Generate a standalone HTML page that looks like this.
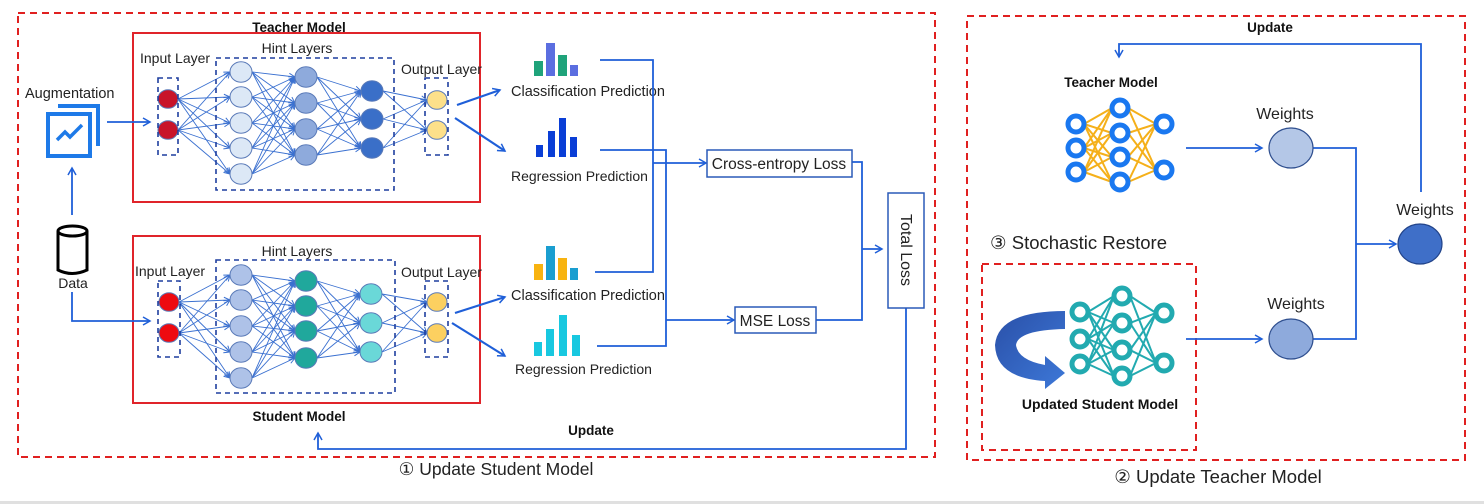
<!DOCTYPE html>
<html><head><meta charset="utf-8"><style>
html,body{margin:0;padding:0;background:#fff;}
svg{display:block;font-family:"Liberation Sans",sans-serif;}
</style></head><body>
<svg id="s" width="1484" height="504" viewBox="0 0 1484 504" xmlns="http://www.w3.org/2000/svg">
<defs>
<marker id="a" markerWidth="10" markerHeight="10" refX="8" refY="5" orient="auto" markerUnits="userSpaceOnUse"><path d="M1,1 L8,5 L1,9" fill="none" stroke="#1f5fd8" stroke-width="1.5"/></marker>
<marker id="sa" markerWidth="8" markerHeight="8" refX="7" refY="4" orient="auto" markerUnits="userSpaceOnUse"><path d="M1,1 L7,4 L1,7" fill="none" stroke="#3a70d0" stroke-width="1"/></marker>
<linearGradient id="cg" x1="0" y1="0" x2="1" y2="1"><stop offset="0" stop-color="#2a50a8"/><stop offset="1" stop-color="#3d78d8"/></linearGradient>
</defs>
<rect x="0" y="501" width="1484" height="3" fill="#e0e0e0"/>
<rect x="18" y="13" width="917" height="444" fill="none" stroke="#e02020" stroke-width="2" stroke-dasharray="7,5"/>
<rect x="967" y="16" width="498" height="444" fill="none" stroke="#e02020" stroke-width="2" stroke-dasharray="7,5"/>
<rect x="982" y="264" width="214" height="186" fill="none" stroke="#e02020" stroke-width="2" stroke-dasharray="7,5"/>
<rect x="133" y="33" width="347" height="169" fill="none" stroke="#e0242a" stroke-width="2"/>
<rect x="133" y="236" width="347" height="167" fill="none" stroke="#e0242a" stroke-width="2"/>
<g id="nets"></g>
<g fill="none" stroke="#1f3f9f" stroke-width="1.6" stroke-dasharray="5,4">
<rect x="158" y="78" width="20" height="77"/><rect x="216" y="58" width="178" height="132"/><rect x="425" y="78" width="23" height="77"/>
<rect x="158" y="281" width="22" height="76"/><rect x="216" y="260" width="179" height="133"/><rect x="425" y="281" width="23" height="76"/>
</g>
<g font-size="14" fill="#222">
<text x="140" y="63">Input Layer</text><text x="297" y="53" text-anchor="middle">Hint Layers</text><text x="401" y="74">Output Layer</text>
<text x="135" y="276">Input Layer</text><text x="297" y="256" text-anchor="middle">Hint Layers</text><text x="401" y="277">Output Layer</text>
<text x="25" y="98" font-size="14.5">Augmentation</text><text x="73" y="288" text-anchor="middle">Data</text>
<text x="511" y="96" font-size="14.5">Classification Prediction</text><text x="511" y="181">Regression Prediction</text>
<text x="511" y="300" font-size="14.5">Classification Prediction</text><text x="515" y="374">Regression Prediction</text>
</g>
<g font-size="13.5" font-weight="bold" fill="#111">
<text x="299" y="32" text-anchor="middle">Teacher Model</text>
<text x="299" y="421" text-anchor="middle">Student Model</text>
<text x="591" y="435" text-anchor="middle">Update</text>
<text x="1270" y="32" text-anchor="middle">Update</text>
<text x="1111" y="87" text-anchor="middle">Teacher Model</text>
<text x="1100" y="409" text-anchor="middle" font-size="14">Updated Student Model</text>
</g>
<path d="M58,106 H98 V146" fill="none" stroke="#1e7ae8" stroke-width="4"/>
<rect x="48" y="114" width="42" height="42" fill="none" stroke="#1e7ae8" stroke-width="4"/>
<path d="M57,140 L65,132 L70,137 L82,125" fill="none" stroke="#1e7ae8" stroke-width="3.5"/>
<path d="M58,231 V270 Q72,277 87,270 V231" fill="#fff" stroke="#000" stroke-width="3"/>
<ellipse cx="72.5" cy="231" rx="14.5" ry="5" fill="#fff" stroke="#000" stroke-width="3"/>
<g fill="none" stroke="#1f5fd8" stroke-width="1.8">
<path d="M107,122 H150" marker-end="url(#a)"/>
<path d="M72,215 V168" marker-end="url(#a)"/>
<path d="M72,292 V321 H150" marker-end="url(#a)"/>
<path d="M457,105 L500,90" marker-end="url(#a)" stroke-width="2.2"/>
<path d="M455,118 L505,151" marker-end="url(#a)" stroke-width="2.2"/>
<path d="M455,313 L505,297" marker-end="url(#a)" stroke-width="2.2"/>
<path d="M452,323 L505,356" marker-end="url(#a)" stroke-width="2.2"/>
<path d="M600,60 H653 V272 H595"/>
<path d="M600,150 H666 V346 H597"/>
<path d="M653,163 H706" marker-end="url(#a)"/>
<path d="M666,320 H734" marker-end="url(#a)"/>
<path d="M852,162 H862 V320 H816"/>
<path d="M862,249 H882" marker-end="url(#a)"/>
<path d="M906,308 V449 H318 V433" marker-end="url(#a)"/>
<path d="M1421,192 V44 H1119 V57" marker-end="url(#a)"/>
<path d="M1186,148 H1262" marker-end="url(#a)"/>
<path d="M1186,339 H1262" marker-end="url(#a)"/>
<path d="M1313,148 H1356 V339 H1313"/>
<path d="M1356,244 H1396" marker-end="url(#a)"/>
</g>
<g>
<rect x="534" y="61" width="9" height="15" fill="#1fa37a"/><rect x="546" y="43" width="9" height="33" fill="#5b6ee0"/><rect x="558" y="55" width="9" height="21" fill="#1fa37a"/><rect x="570" y="65" width="8" height="11" fill="#5b6ee0"/>
<rect x="536" y="145" width="7" height="12" fill="#0a3ed6"/><rect x="548" y="131" width="7" height="26" fill="#0a3ed6"/><rect x="559" y="118" width="7" height="39" fill="#0a3ed6"/><rect x="570" y="137" width="7" height="20" fill="#0a3ed6"/>
<rect x="534" y="264" width="9" height="16" fill="#f8b310"/><rect x="546" y="246" width="9" height="34" fill="#1a9ed0"/><rect x="558" y="258" width="9" height="22" fill="#f8b310"/><rect x="570" y="268" width="8" height="12" fill="#1a9ed0"/>
<rect x="534" y="342" width="8" height="14" fill="#18c8e0"/><rect x="546" y="329" width="8" height="27" fill="#18c8e0"/><rect x="559" y="315" width="8" height="41" fill="#18c8e0"/><rect x="572" y="335" width="8" height="21" fill="#18c8e0"/>
</g>
<rect x="707" y="150" width="145" height="27" fill="#fff" stroke="#2a5ab8" stroke-width="1.5"/>
<text x="779" y="169" font-size="15.5" text-anchor="middle" fill="#222">Cross-entropy Loss</text>
<rect x="735" y="307" width="81" height="26" fill="#fff" stroke="#2a5ab8" stroke-width="1.5"/>
<text x="775" y="326" font-size="15.5" text-anchor="middle" fill="#222">MSE Loss</text>
<rect x="888" y="193" width="36" height="115" fill="#fff" stroke="#2a5ab8" stroke-width="1.5"/>
<text transform="translate(901,250) rotate(90)" font-size="16" text-anchor="middle" fill="#222">Total Loss</text>
<ellipse cx="1291" cy="148" rx="22" ry="20" fill="#b4c7e7" stroke="#2f4f8f" stroke-width="1.2"/>
<ellipse cx="1291" cy="339" rx="22" ry="20" fill="#8eaadc" stroke="#2f4f8f" stroke-width="1.2"/>
<ellipse cx="1420" cy="244" rx="22" ry="20" fill="#3f6fc8" stroke="#22448a" stroke-width="1.2"/>
<g font-size="16" fill="#222" text-anchor="middle">
<text x="1285" y="119">Weights</text><text x="1296" y="309">Weights</text><text x="1425" y="215">Weights</text>
</g>
<text x="990" y="249" font-size="18.5" fill="#222">③ Stochastic Restore</text>
<text x="496" y="475" font-size="17.5" fill="#222" text-anchor="middle">① Update Student Model</text>
<text x="1218" y="483" font-size="18.5" fill="#222" text-anchor="middle">② Update Teacher Model</text>
<path d="M1065,311 V329 Q1018,330 1016,345 Q1018,360 1045,365 L1045,356 L1065,373 L1045,389 L1045,381 Q996,378 995,345 Q998,311 1065,311 Z" fill="url(#cg)"/>
</svg>
<script>
var g=document.getElementById('nets'),NS='http://www.w3.org/2000/svg';
function el(t,a){var e=document.createElementNS(NS,t);for(var k in a)e.setAttribute(k,a[k]);g.appendChild(e);return e;}
function net(layers,arrow){
 for(var i=0;i<layers.length-1;i++){var A=layers[i],B=layers[i+1];
  A.ys.forEach(function(ya){B.ys.forEach(function(yb){
   var a={x1:A.x+A.r,y1:ya,x2:B.x-B.r,y2:yb,stroke:arrow.c,'stroke-width':arrow.w};
   if(arrow.m)a['marker-end']='url(#sa)';el('line',a);});});}
 layers.forEach(function(L){L.ys.forEach(function(y){
  if(L.ring)el('circle',{cx:L.x,cy:y,r:L.r,fill:'#fff',stroke:L.c,'stroke-width':5});
  else el('ellipse',{cx:L.x,cy:y,rx:L.r,ry:L.r*0.93,fill:L.c,stroke:'#5a7ab8','stroke-width':1});});});
}
var ac={c:'#3a70d0',w:0.9,m:1};
net([{x:168,ys:[99,130],r:10,c:'#c8142a'},{x:241,ys:[72,97,123,148,174],r:11,c:'#dce8f6'},{x:306,ys:[77,103,129,155],r:11,c:'#8eaadc'},{x:372,ys:[91,119,148],r:11,c:'#3a6fc8'},{x:437,ys:[100,130],r:10,c:'#fde08a'}],ac);
net([{x:169,ys:[302,333],r:10,c:'#ee0a10'},{x:241,ys:[275,300,326,352,378],r:11,c:'#aec2e8'},{x:306,ys:[281,306,331,358],r:11,c:'#20a89c'},{x:371,ys:[294,323,352],r:11,c:'#6ad8d8'},{x:437,ys:[302,333],r:10,c:'#fcd060'}],ac);
net([{x:1076,ys:[124,148,172],r:8,c:'#1a78f0',ring:1},{x:1120,ys:[108,133,157,182],r:8,c:'#1a78f0',ring:1},{x:1164,ys:[124,170],r:8,c:'#1a78f0',ring:1}],{c:'#f5b01a',w:2});
net([{x:1080,ys:[312,339,364],r:8,c:'#22aab0',ring:1},{x:1122,ys:[296,323,350,376],r:8,c:'#22aab0',ring:1},{x:1164,ys:[313,363],r:8,c:'#22aab0',ring:1}],{c:'#22aab0',w:2});
</script>
</body></html>
